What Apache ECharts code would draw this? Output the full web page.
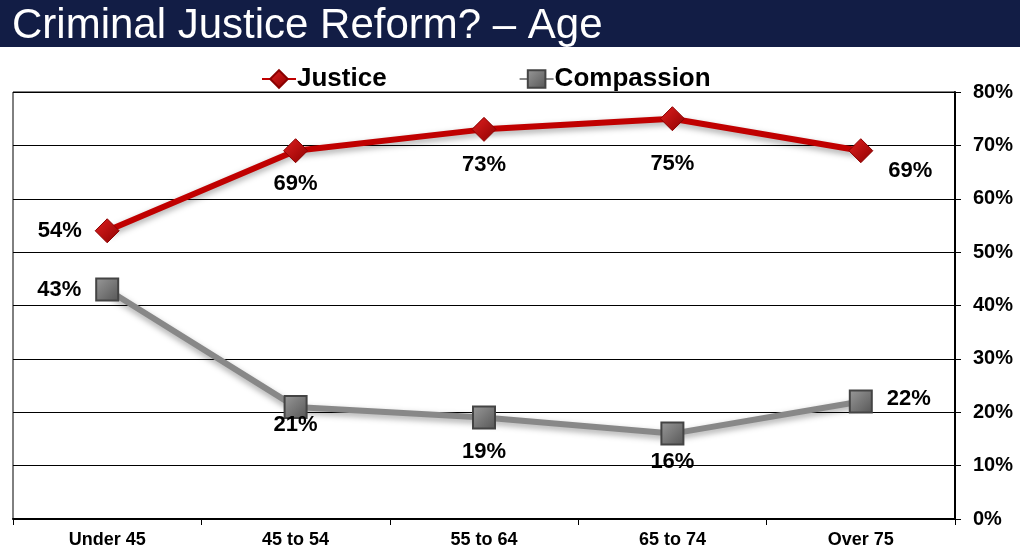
<!DOCTYPE html>
<html>
<head>
<meta charset="utf-8">
<script src="https://cdn.jsdelivr.net/npm/echarts@6/dist/echarts.min.js"></script>
<style>
  html, body { margin: 0; padding: 0; background: #fff; }
  #main { width: 1024px; height: 552px; }
</style>
</head>
<body>
<div id="main"></div>
<script>
var categories = ['Under 45', '45 to 54', '55 to 64', '65 to 74', 'Over 75'];
var justice = [54, 69, 73, 75, 69];
var compassion = [43, 21, 19, 16, 22];

// label placement for each point (matches the original slide)
var justiceLabels = [
    { position: 'left', distance: 13 },
    { position: 'bottom', distance: 10 },
    { position: 'bottom', distance: 12 },
    { position: 'bottom', distance: 22 },
    { position: 'right', distance: 15, offset: [0, 20] }
];
var compassionLabels = [
    { position: 'left', distance: 14 },
    { position: 'bottom', distance: -5 },
    { position: 'bottom', distance: 11 },
    { position: 'bottom', distance: 5 },
    { position: 'right', distance: 14, offset: [0, -3] }
];

var chart = echarts.init(document.getElementById('main'));

var font = 'Liberation Sans, Arial, sans-serif';

var withLabels = function (vals, labels) {
    return vals.map(function (v, i) {
        return { value: v, label: labels[i] };
    });
};

var option = {
    backgroundColor: '#fff',
    animation: false,
    graphic: [
        {
            type: 'rect',
            shape: { x: 0, y: 0, width: 1020, height: 47 },
            style: { fill: '#121D45' },
            z: 0
        }
    ],
    title: {
        text: 'Criminal Justice Reform? – Age',
        left: 7,
        top: 0,
        textStyle: {
            color: '#fff',
            fontFamily: font,
            fontWeight: 'normal',
            fontSize: 42
        }
    },
    legend: {
        top: 61,
        left: 256,
        itemGap: 132,
        itemWidth: 34,
        itemHeight: 22,
        textStyle: {
            fontFamily: font,
            fontWeight: 'bold',
            fontSize: 26,
            color: '#000',
            padding: [0, 0, 0, -4]
        },
        data: ['Justice', 'Compassion']
    },
    grid: {
        left: 13,
        right: 69,
        top: 92,
        bottom: 33,
        show: true,
        borderColor: '#000',
        borderWidth: 1
    },
    xAxis: {
        type: 'category',
        data: categories,
        boundaryGap: true,
        axisLine: { lineStyle: { color: '#000', width: 2 } },
        axisTick: { show: true, length: 6, lineStyle: { color: '#000' } },
        axisLabel: {
            color: '#000',
            fontFamily: font,
            fontWeight: 'bold',
            fontSize: 18,
            margin: 12
        }
    },
    yAxis: {
        type: 'value',
        position: 'right',
        min: 0,
        max: 80,
        interval: 10,
        axisLine: { show: true, lineStyle: { color: '#000', width: 2 } },
        axisTick: { show: true, length: 6, lineStyle: { color: '#000' } },
        axisLabel: {
            formatter: '{value}%',
            color: '#000',
            fontFamily: font,
            fontWeight: 'bold',
            fontSize: 20,
            margin: 18
        },
        splitLine: { lineStyle: { color: '#000', width: 1 } }
    },
    series: [
        {
            name: 'Justice',
            type: 'line',
            data: withLabels(justice, justiceLabels),
            symbol: 'diamond',
            symbolSize: 24,
            lineStyle: {
                color: '#C00000',
                width: 6,
                shadowColor: 'rgba(0,0,0,0.35)',
                shadowBlur: 6,
                shadowOffsetY: 3
            },
            itemStyle: {
                color: new echarts.graphic.LinearGradient(0, 0, 1, 1, [
                    { offset: 0, color: '#E02020' },
                    { offset: 1, color: '#8E0000' }
                ]),
                borderColor: '#8B0000',
                borderWidth: 1
            },
            label: {
                show: true,
                formatter: '{c}%',
                color: '#000',
                fontFamily: font,
                fontWeight: 'bold',
                fontSize: 22
            },
            z: 3
        },
        {
            name: 'Compassion',
            type: 'line',
            data: withLabels(compassion, compassionLabels),
            symbol: 'rect',
            symbolSize: 22,
            lineStyle: {
                color: '#888888',
                width: 6,
                shadowColor: 'rgba(0,0,0,0.35)',
                shadowBlur: 6,
                shadowOffsetY: 3
            },
            itemStyle: {
                color: new echarts.graphic.LinearGradient(0, 0, 1, 1, [
                    { offset: 0, color: '#9A9A9A' },
                    { offset: 1, color: '#555555' }
                ]),
                borderColor: '#444444',
                borderWidth: 2
            },
            label: {
                show: true,
                formatter: '{c}%',
                color: '#000',
                fontFamily: font,
                fontWeight: 'bold',
                fontSize: 22
            },
            z: 3
        }
    ]
};

chart.setOption(option);
</script>
</body>
</html>
